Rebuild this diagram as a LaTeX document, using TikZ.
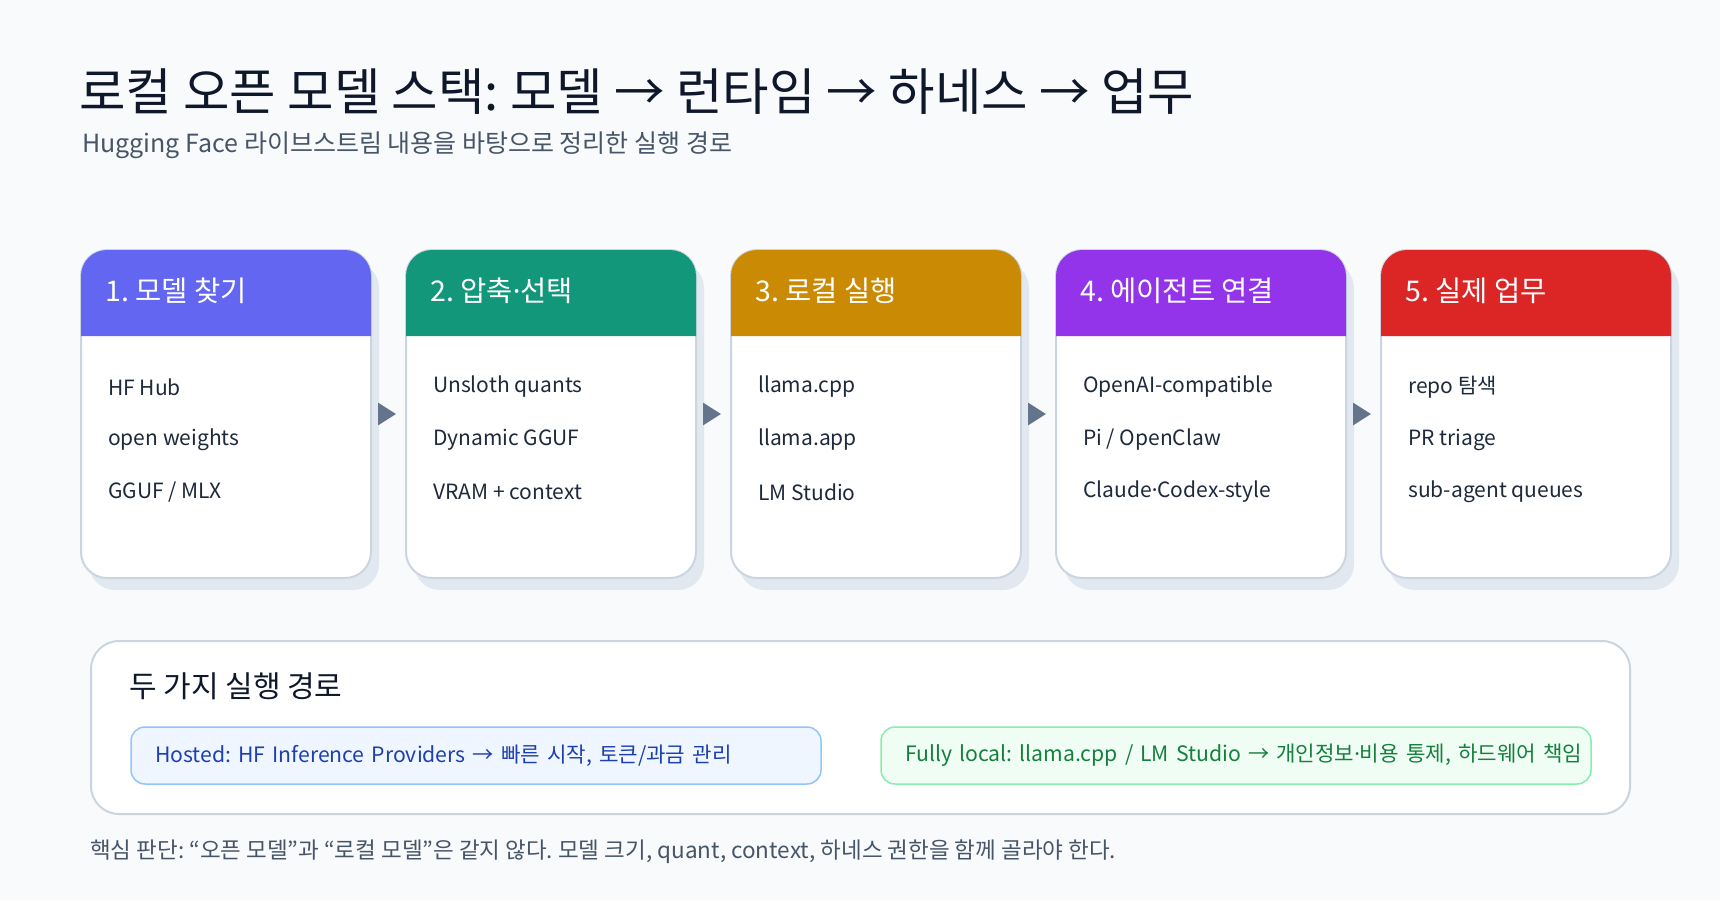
\documentclass[tikz,border=0pt]{standalone}
\usepackage{fontspec}
\setmainfont{Noto Sans CJK KR}
\newfontfamily\dotfont{Noto Sans}
\newcommand\kdot{{\dotfont ·}}
\frenchspacing
\usetikzlibrary{arrows.meta,shadows}

\definecolor{bgcol}{HTML}{F8FAFC}
\definecolor{titlecol}{HTML}{0F172A}
\definecolor{subcol}{HTML}{475569}
\definecolor{cardline}{HTML}{CBD5E1}
\definecolor{shadowcol}{HTML}{E2E8F0}
\definecolor{itemcol}{HTML}{1E293B}
\definecolor{arrowcol}{HTML}{64748B}
\definecolor{hone}{HTML}{6366F1}
\definecolor{htwo}{HTML}{12977A}
\definecolor{hthree}{HTML}{CA8A04}
\definecolor{hfour}{HTML}{9333EA}
\definecolor{hfive}{HTML}{DC2626}
\definecolor{hostfill}{HTML}{EFF6FF}
\definecolor{hostline}{HTML}{93C5FD}
\definecolor{hosttxt}{HTML}{1E40AF}
\definecolor{localfill}{HTML}{F0FDF4}
\definecolor{localline}{HTML}{86EFAC}
\definecolor{localtxt}{HTML}{15803D}

\begin{document}
\begin{tikzpicture}[x=1pt,y=-1pt,
  card/.style={draw=cardline, line width=2pt, fill=white, rounded corners=26pt,
    minimum width=290pt, minimum height=328pt, inner sep=0pt,
    drop shadow={shadow xshift=8pt, shadow yshift=-12pt, fill=shadowcol, opacity=1}},
  headtxt/.style={text=white, font=\fontsize{28.5}{34}\selectfont, inner sep=0pt},
  itemtxt/.style={text=itemcol, font=\fontsize{21}{26}\selectfont, inner sep=0pt},
  flow/.style={draw=arrowcol, line width=3pt, shorten <=8pt, shorten >=9pt,
    -{Triangle[length=18pt,width=22pt]}},
  panel/.style={draw=cardline, line width=2pt, fill=white, rounded corners=28pt,
    minimum width=1539pt, minimum height=173pt},
  pill/.style={line width=1.5pt, rounded corners=14pt, minimum height=57pt,
    inner xsep=24pt, align=left, font=\fontsize{21.2}{26}\selectfont}]

  \fill[bgcol] (0,0) rectangle (1720,900);

  % title
  \node[anchor=west, inner sep=0pt, text=titlecol, font=\fontsize{50.5}{60}\selectfont]
    (title) at (79,92) {로컬 오픈 모델 스택: 모델 → 런타임 → 하네스 → 업무};
  \node[anchor=west, inner sep=0pt, text=subcol, font=\fontsize{25}{30}\selectfont]
    (subtitle) at (82,145) {Hugging Face 라이브스트림 내용을 바탕으로 정리한 실행 경로};

  % stage cards
  \foreach \i/\hcol/\htext/\la/\lb/\lc in {
    1/hone/{1. 모델 찾기}/{HF Hub}/{open weights}/{GGUF / MLX},
    2/htwo/{2. 압축\kdot 선택}/{Unsloth quants}/{Dynamic GGUF}/{VRAM + context},
    3/hthree/{3. 로컬 실행}/{llama.cpp}/{llama.app}/{LM Studio},
    4/hfour/{4. 에이전트 연결}/{OpenAI-compatible}/{Pi / OpenClaw}/{Claude\kdot Codex-style},
    5/hfive/{5. 실제 업무}/{repo 탐색}/{PR triage}/{sub-agent queues}} {
    \pgfmathsetmacro\xl{81+(\i-1)*325}
    \node[card] (card\i) at (\xl+145,414) {};
    \fill[\hcol] (\xl,336) [rounded corners=26pt] -- (\xl,250) -- (\xl+290,250)
      [sharp corners] -- (\xl+290,336) -- cycle;
    \node[headtxt, anchor=west] (head\i) at (\xl+24,291) {\htext};
    \node[itemtxt, anchor=west] (item\i a) at (\xl+27,387) {\la};
    \node[itemtxt, anchor=west] (item\i b) at (\xl+27,440) {\lb};
    \node[itemtxt, anchor=west] (item\i c) at (\xl+27,492) {\lc};
  }

  \foreach \i [evaluate=\i as \j using int(\i+1)] in {1,...,4}
    \draw[flow] (card\i.east) -- (card\j.west);

  % two paths
  \node[panel] (paths) at (860.5,727.5) {};
  \node[anchor=west, inner sep=0pt, text=titlecol, font=\fontsize{30}{36}\selectfont]
    (pathtitle) at (129,686) {두 가지 실행 경로};
  \node[pill, fill=hostfill, draw=hostline, text=hosttxt, text width=642pt]
    (hosted) at (476,755.5) {\mbox{Hosted: HF Inference Providers → 빠른 시작, 토큰/과금 관리}};
  \node[pill, fill=localfill, draw=localline, text=localtxt, text width=662pt]
    (local) at (1236,755.5) {\mbox{Fully local: llama.cpp / LM Studio → 개인정보\kdot 비용 통제, 하드웨어 책임}};

  \node[anchor=west, inner sep=0pt, text=subcol, font=\fontsize{22.5}{27}\selectfont]
    (note) at (90,852) {핵심 판단: “오픈 모델”과 “로컬 모델”은 같지 않다. 모델 크기, quant, context, 하네스 권한을 함께 골라야 한다.};

\end{tikzpicture}
\end{document}
